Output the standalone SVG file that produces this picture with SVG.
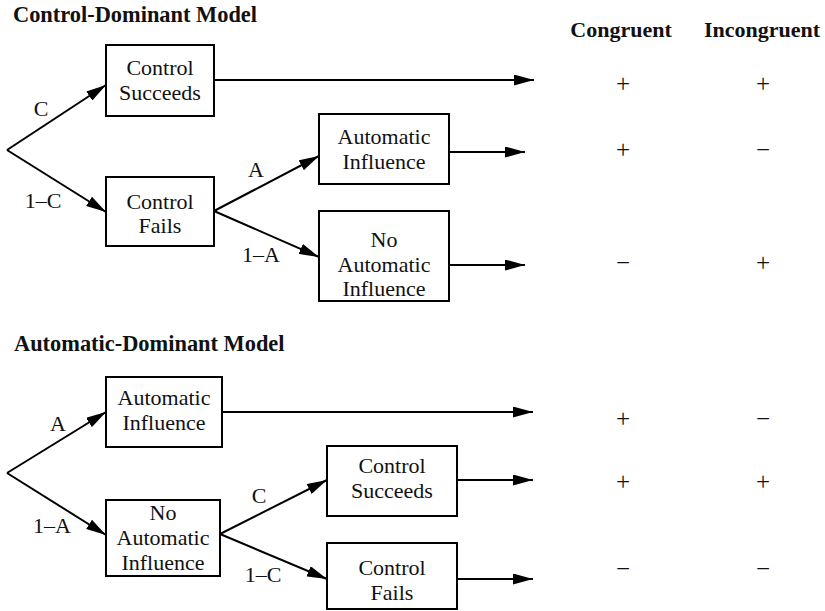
<svg xmlns="http://www.w3.org/2000/svg" width="825" height="611" viewBox="0 0 825 611" font-family="Liberation Serif">
<style>
.ttl{font-family:"Liberation Serif",serif;font-size:22.4px;font-weight:bold;fill:#111}
.hdr{font-family:"Liberation Serif",serif;font-size:22px;font-weight:bold;text-anchor:middle;fill:#111}
.ntx{font-family:"Liberation Serif",serif;font-size:22px;text-anchor:middle;fill:#111}
.lbl{font-family:"Liberation Serif",serif;font-size:22px;text-anchor:middle;fill:#111}
.sgn{font-family:"Liberation Serif",serif;font-size:25px;text-anchor:middle;fill:#111}
.box{fill:#fff;stroke:#000;stroke-width:2}
.cn line{stroke:#000;stroke-width:2;marker-end:url(#ah)}
</style>
<defs>
<marker id="ah" viewBox="0 0 20 11" refX="20" refY="5.5" markerWidth="20" markerHeight="11" markerUnits="userSpaceOnUse" orient="auto">
<path d="M0,0 L20,5.5 L0,11 z" fill="#000"/>
</marker>
</defs>
<text class="ttl" x="13" y="22">Control-Dominant Model</text>
<text class="hdr" x="621" y="37">Congruent</text>
<text class="hdr" x="762" y="37">Incongruent</text>
<text class="ttl" x="14" y="351">Automatic-Dominant Model</text>
<g class="cn" id="connectors">
<line x1="7" y1="150" x2="106" y2="85"/>
<line x1="7" y1="150" x2="106" y2="212"/>
<line x1="214" y1="80" x2="534" y2="80"/>
<line x1="214" y1="211" x2="319" y2="156"/>
<line x1="214" y1="211" x2="319" y2="257"/>
<line x1="449" y1="152" x2="525" y2="152"/>
<line x1="449" y1="265" x2="525" y2="265"/>
<line x1="7" y1="473" x2="106" y2="412"/>
<line x1="7" y1="473" x2="106" y2="535"/>
<line x1="222" y1="412" x2="533" y2="412"/>
<line x1="220" y1="534" x2="327" y2="480"/>
<line x1="220" y1="534" x2="327" y2="579"/>
<line x1="457" y1="480" x2="533" y2="480"/>
<line x1="457" y1="579" x2="533" y2="579"/>
</g>
<g id="labels">
<text class="lbl" x="41" y="116">C</text>
<text class="lbl" x="43" y="208">1–C</text>
<text class="lbl" x="256" y="177">A</text>
<text class="lbl" x="261" y="262">1–A</text>
<text class="lbl" x="58" y="431">A</text>
<text class="lbl" x="52" y="533">1–A</text>
<text class="lbl" x="259" y="503">C</text>
<text class="lbl" x="263" y="582">1–C</text>
</g>
<g id="cd-control-succeeds"><rect class="box" x="106" y="45" width="108" height="71"/><text class="ntx" x="160" y="75">Control</text><text class="ntx" x="160" y="100">Succeeds</text></g>
<g id="cd-control-fails"><rect class="box" x="106" y="177" width="108" height="69"/><text class="ntx" x="160" y="209">Control</text><text class="ntx" x="160" y="233">Fails</text></g>
<g id="cd-automatic"><rect class="box" x="319" y="114" width="130" height="70"/><text class="ntx" x="384" y="144">Automatic</text><text class="ntx" x="384" y="169">Influence</text></g>
<g id="cd-no-automatic"><rect class="box" x="319" y="211" width="130" height="90"/><text class="ntx" x="384" y="247">No</text><text class="ntx" x="384" y="272">Automatic</text><text class="ntx" x="384" y="296">Influence</text></g>
<g id="ad-automatic"><rect class="box" x="106" y="377" width="116" height="70"/><text class="ntx" x="164" y="405">Automatic</text><text class="ntx" x="164" y="430">Influence</text></g>
<g id="ad-no-automatic"><rect class="box" x="106" y="500" width="114" height="76"/><text class="ntx" x="163" y="520">No</text><text class="ntx" x="163" y="545">Automatic</text><text class="ntx" x="163" y="570">Influence</text></g>
<g id="ad-control-succeeds"><rect class="box" x="327" y="446" width="130" height="70"/><text class="ntx" x="392" y="473">Control</text><text class="ntx" x="392" y="498">Succeeds</text></g>
<g id="ad-control-fails"><rect class="box" x="327" y="543" width="130" height="66"/><text class="ntx" x="392" y="575">Control</text><text class="ntx" x="392" y="600">Fails</text></g>
<g id="signs">
<text class="sgn" x="623" y="92">+</text><text class="sgn" x="763" y="92">+</text>
<text class="sgn" x="623" y="158">+</text><text class="sgn" x="763" y="158">−</text>
<text class="sgn" x="623" y="271">−</text><text class="sgn" x="763" y="271">+</text>
<text class="sgn" x="623" y="427">+</text><text class="sgn" x="763" y="427">−</text>
<text class="sgn" x="623" y="490">+</text><text class="sgn" x="763" y="490">+</text>
<text class="sgn" x="623" y="577">−</text><text class="sgn" x="763" y="577">−</text>
</g>
</svg>
